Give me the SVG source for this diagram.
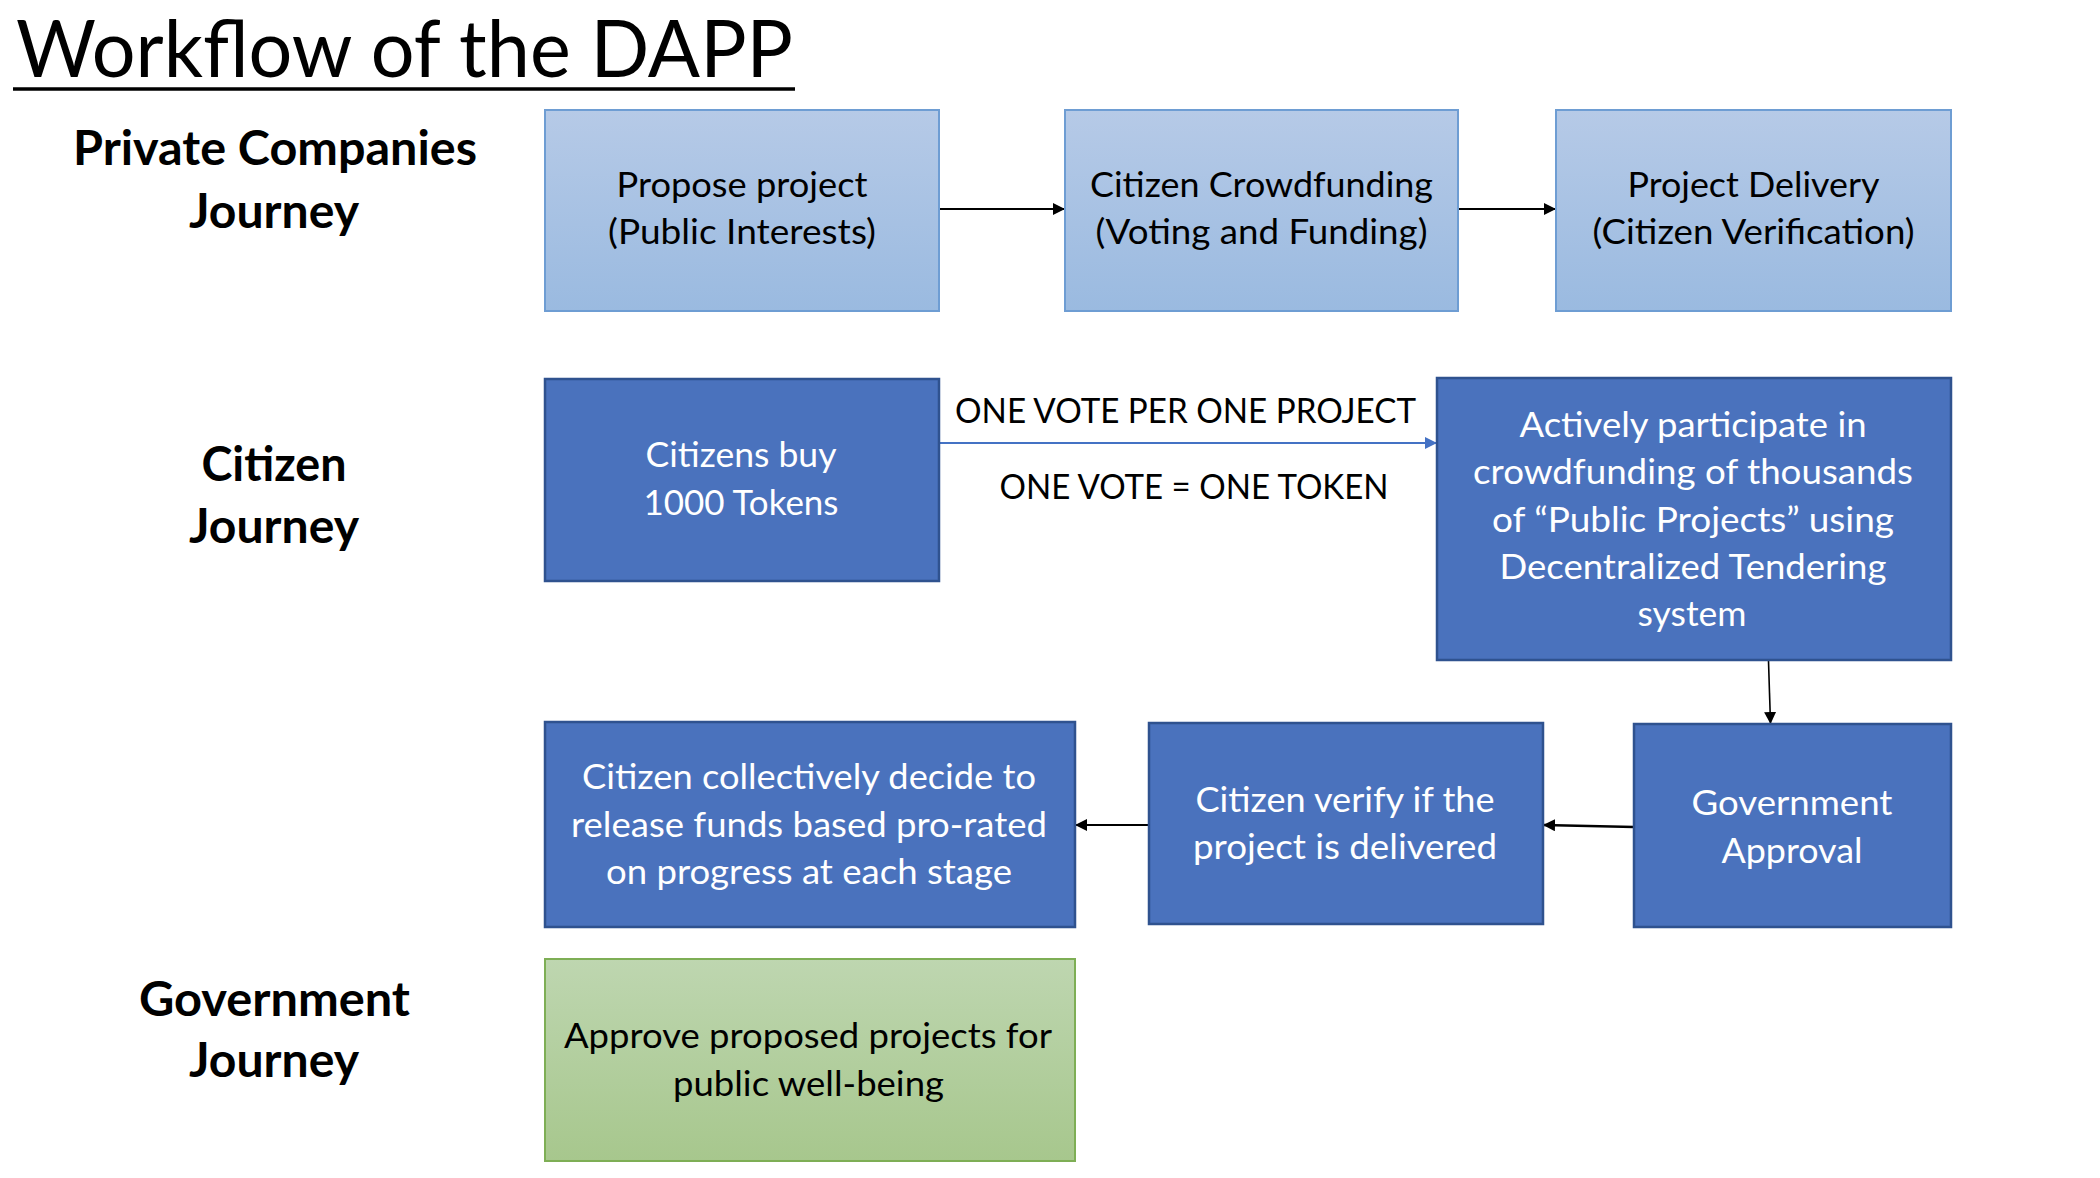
<svg xmlns="http://www.w3.org/2000/svg" width="2100" height="1178" viewBox="0 0 2100 1178">
<style>
text{font-family:Lato,"Open Sans","Liberation Sans",sans-serif;text-anchor:middle}
.title{font-size:78.5px;fill:#000}
.lane{font-size:47px;font-weight:bold;fill:#000}
.bt{font-size:35.4px}
.dk{fill:#fff}
.lt{fill:#000}
.lb{fill:url(#gBlue);stroke:#6E9DD3;stroke-width:2}
.db{fill:#4A72BD;stroke:#2F528F;stroke-width:2.5}
.gb{fill:url(#gGreen);stroke:#7EAE55;stroke-width:2}
.c{fill:none;stroke:#000;stroke-width:2}
</style>
<defs>
<linearGradient id="gBlue" x1="0" y1="0" x2="0" y2="1">
<stop offset="0" stop-color="#B6CAE7"/><stop offset="1" stop-color="#9ABAE0"/>
</linearGradient>
<linearGradient id="gGreen" x1="0" y1="0" x2="0" y2="1">
<stop offset="0" stop-color="#BED6B0"/><stop offset="1" stop-color="#A7C78D"/>
</linearGradient>
<marker id="ah" markerUnits="userSpaceOnUse" markerWidth="13" markerHeight="12" refX="12" refY="6" orient="auto">
<path d="M0,0 L12,6 L0,12 z" fill="#000"/>
</marker>
<marker id="ahb" markerUnits="userSpaceOnUse" markerWidth="13" markerHeight="12" refX="12" refY="6" orient="auto">
<path d="M0,0 L12,6 L0,12 z" fill="#4472C4"/>
</marker>
</defs>
<rect width="2100" height="1178" fill="#fff"/>

<g id="title">
<text class="title" x="404.5" y="77" textLength="777" lengthAdjust="spacingAndGlyphs">Workflow of the DAPP</text>
<line x1="13" y1="89" x2="795" y2="89" stroke="#000" stroke-width="3.5"/>
</g>

<g id="lane-private">
<text class="lane" x="275" y="165" textLength="404" lengthAdjust="spacingAndGlyphs">Private Companies</text>
<text class="lane" x="274" y="228" textLength="170" lengthAdjust="spacingAndGlyphs">Journey</text>
</g>
<g id="lane-citizen">
<text class="lane" x="274" y="481" textLength="145" lengthAdjust="spacingAndGlyphs">Citizen</text>
<text class="lane" x="274" y="543" textLength="170" lengthAdjust="spacingAndGlyphs">Journey</text>
</g>
<g id="lane-government">
<text class="lane" x="274.5" y="1016" textLength="271" lengthAdjust="spacingAndGlyphs">Government</text>
<text class="lane" x="274" y="1077" textLength="170" lengthAdjust="spacingAndGlyphs">Journey</text>
</g>

<g id="connectors">
<path class="c" d="M939,209 H1065" marker-end="url(#ah)"/>
<path class="c" d="M1458,209 H1556" marker-end="url(#ah)"/>
<path class="c" d="M939,443 H1437" style="stroke:#4472C4" marker-end="url(#ahb)"/>
<path class="c" d="M1768.5,661 L1770.5,724" style="stroke-width:1.6" marker-end="url(#ah)"/>
<path class="c" d="M1634,827 L1543,825" style="stroke-width:2.6" marker-end="url(#ah)"/>
<path class="c" d="M1149,825 L1075,825" marker-end="url(#ah)"/>
<text class="bt lt" x="1185.5" y="422.5" textLength="461" lengthAdjust="spacingAndGlyphs">ONE VOTE PER ONE PROJECT</text>
<text class="bt lt" x="1194" y="498.5" textLength="389" lengthAdjust="spacingAndGlyphs">ONE VOTE = ONE TOKEN</text>
</g>

<g id="propose">
<rect class="lb" x="545" y="110" width="394" height="201"/>
<text class="bt lt" x="742" y="197" textLength="251" lengthAdjust="spacingAndGlyphs">Propose project</text>
<text class="bt lt" x="742" y="244" textLength="268" lengthAdjust="spacingAndGlyphs">(Public Interests)</text>
</g>
<g id="crowdfunding">
<rect class="lb" x="1065" y="110" width="393" height="201"/>
<text class="bt lt" x="1261.5" y="197" textLength="343" lengthAdjust="spacingAndGlyphs">Citizen Crowdfunding</text>
<text class="bt lt" x="1261.5" y="244" textLength="332" lengthAdjust="spacingAndGlyphs">(Voting and Funding)</text>
</g>
<g id="delivery">
<rect class="lb" x="1556" y="110" width="395" height="201"/>
<text class="bt lt" x="1753.5" y="197" textLength="252" lengthAdjust="spacingAndGlyphs">Project Delivery</text>
<text class="bt lt" x="1753.5" y="244" textLength="322" lengthAdjust="spacingAndGlyphs">(Citizen Verification)</text>
</g>

<g id="buy-tokens">
<rect class="db" x="545" y="379" width="394" height="202"/>
<text class="bt dk" x="741" y="467" textLength="191" lengthAdjust="spacingAndGlyphs">Citizens buy</text>
<text class="bt dk" x="741" y="515" textLength="195" lengthAdjust="spacingAndGlyphs">1000 Tokens</text>
</g>
<g id="participate">
<rect class="db" x="1437" y="378" width="514" height="282"/>
<text class="bt dk" x="1693" y="437" textLength="347" lengthAdjust="spacingAndGlyphs">Actively participate in</text>
<text class="bt dk" x="1693" y="484" textLength="440" lengthAdjust="spacingAndGlyphs">crowdfunding of thousands</text>
<text class="bt dk" x="1693" y="531.5" textLength="402" lengthAdjust="spacingAndGlyphs">of “Public Projects” using</text>
<text class="bt dk" x="1693" y="579" textLength="387" lengthAdjust="spacingAndGlyphs">Decentralized Tendering</text>
<text class="bt dk" x="1692" y="626" textLength="109" lengthAdjust="spacingAndGlyphs">system</text>
</g>
<g id="gov-approval">
<rect class="db" x="1634" y="724" width="317" height="203"/>
<text class="bt dk" x="1792" y="814.5" textLength="201" lengthAdjust="spacingAndGlyphs">Government</text>
<text class="bt dk" x="1792" y="862.5" textLength="141" lengthAdjust="spacingAndGlyphs">Approval</text>
</g>
<g id="verify">
<rect class="db" x="1149" y="723" width="394" height="201"/>
<text class="bt dk" x="1345" y="812" textLength="299" lengthAdjust="spacingAndGlyphs">Citizen verify if the</text>
<text class="bt dk" x="1345" y="859" textLength="304" lengthAdjust="spacingAndGlyphs">project is delivered</text>
</g>
<g id="release">
<rect class="db" x="545" y="722" width="530" height="205"/>
<text class="bt dk" x="809" y="789" textLength="454" lengthAdjust="spacingAndGlyphs">Citizen collectively decide to</text>
<text class="bt dk" x="809" y="836.5" textLength="476" lengthAdjust="spacingAndGlyphs">release funds based pro-rated</text>
<text class="bt dk" x="809" y="884" textLength="406" lengthAdjust="spacingAndGlyphs">on progress at each stage</text>
</g>
<g id="gov-approve">
<rect class="gb" x="545" y="959" width="530" height="202"/>
<text class="bt lt" x="808" y="1047.5" textLength="488" lengthAdjust="spacingAndGlyphs">Approve proposed projects for</text>
<text class="bt lt" x="808.5" y="1095.5" textLength="271" lengthAdjust="spacingAndGlyphs">public well-being</text>
</g>
</svg>
